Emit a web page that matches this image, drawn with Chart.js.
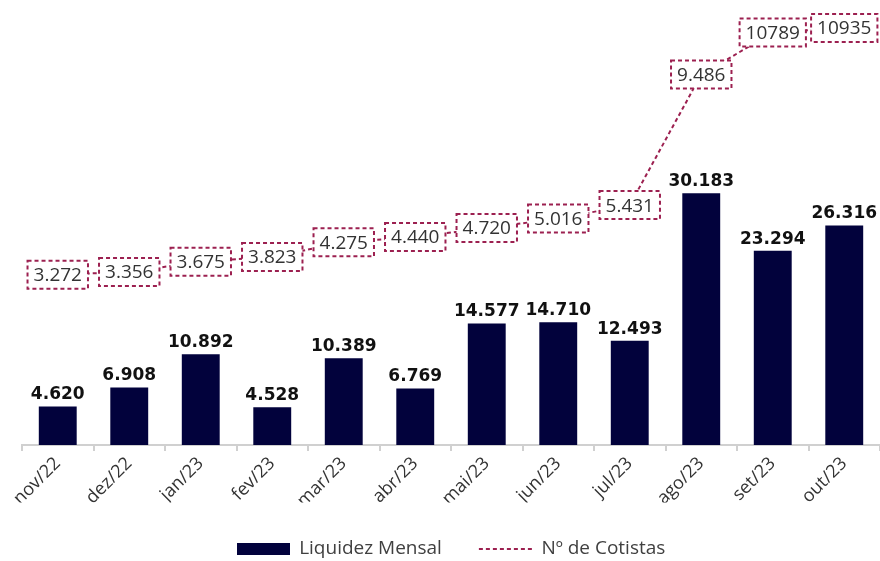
<!DOCTYPE html>
<html>
<head>
<meta charset="utf-8">
<script src="https://cdn.jsdelivr.net/npm/chart.js@4.4.1/dist/chart.umd.min.js"></script>
<style>
  html, body { margin: 0; padding: 0; background: #fff; }
  #wrap { width: 880px; height: 561px; }
</style>
</head>
<body>
<div id="wrap"><canvas id="chart"></canvas></div>
<script>
  // data
  const months = ['nov/22', 'dez/22', 'jan/23', 'fev/23', 'mar/23', 'abr/23', 'mai/23', 'jun/23', 'jul/23', 'ago/23', 'set/23', 'out/23'];
  const liquidez = [4620, 6908, 10892, 4528, 10389, 6769, 14577, 14710, 12493, 30183, 23294, 26316];
  const cotistas = [3272, 3356, 3675, 3823, 4275, 4440, 4720, 5016, 5431, 9486, 10789, 10935];
  const cotistasLabels = ['3.272', '3.356', '3.675', '3.823', '4.275', '4.440', '4.720', '5.016', '5.431', '9.486', '10789', '10935'];

  const NAVY = '#02023c';
  const WINE = '#9c2050';
  const FONT = '"Open Sans", sans-serif';

  const fmtThousands = v => (v / 1000).toFixed(3);

  // legend swatch for the bars
  const barSwatch = document.createElement('canvas');
  barSwatch.width = 53;
  barSwatch.height = 12;
  const sctx = barSwatch.getContext('2d');
  sctx.fillStyle = NAVY;
  sctx.fillRect(0, 0, 53, 12);

  // value labels: bold numbers over bars, dashed boxes on the line
  const valueLabels = {
    id: 'valueLabels',
    afterDatasetsDraw(chart) {
      const ctx = chart.ctx;
      ctx.save();

      const barMeta = chart.getDatasetMeta(0);
      ctx.font = 'bold 17px "DejaVu Sans", sans-serif';
      ctx.fillStyle = '#111';
      ctx.textAlign = 'center';
      ctx.textBaseline = 'bottom';
      barMeta.data.forEach((el, i) => {
        ctx.fillText(fmtThousands(liquidez[i]), el.x, el.y - 3);
      });

      const lineMeta = chart.getDatasetMeta(1);
      ctx.font = '19px ' + FONT;
      ctx.textBaseline = 'middle';
      lineMeta.data.forEach((el, i) => {
        const txt = cotistasLabels[i];
        const w = ctx.measureText(txt).width + 12;
        const h = 28;
        ctx.setLineDash([4, 3]);
        ctx.lineWidth = 2;
        ctx.strokeStyle = WINE;
        ctx.fillStyle = '#fff';
        ctx.fillRect(el.x - w / 2, el.y - h / 2, w, h);
        ctx.strokeRect(el.x - w / 2, el.y - h / 2, w, h);
        ctx.setLineDash([]);
        ctx.fillStyle = '#333';
        ctx.fillText(txt, el.x, el.y + 1);
      });

      ctx.restore();
    }
  };

  new Chart(document.getElementById('chart'), {
    data: {
      labels: months,
      datasets: [
        {
          type: 'bar',
          label: 'Liquidez Mensal',
          data: liquidez,
          backgroundColor: NAVY,
          barPercentage: 0.53,
          categoryPercentage: 1,
          yAxisID: 'y'
        },
        {
          type: 'line',
          label: 'Nº de Cotistas',
          data: cotistas,
          borderColor: WINE,
          borderWidth: 2,
          borderDash: [4, 3],
          pointRadius: 0,
          tension: 0,
          yAxisID: 'y2'
        }
      ]
    },
    options: {
      responsive: true,
      maintainAspectRatio: false,
      animation: false,
      layout: { padding: { left: 22, right: 0, top: 8, bottom: -7.5 } },
      plugins: {
        tooltip: { enabled: false },
        legend: {
          position: 'bottom',
          labels: {
            usePointStyle: true,
            pointStyleWidth: 53,
            padding: 37,
            color: '#404040',
            font: { family: FONT, size: 19 },
            generateLabels(chart) {
              const items = Chart.defaults.plugins.legend.labels.generateLabels(chart);
              items[0].pointStyle = barSwatch;
              items[1].pointStyle = 'line';
              items[1].lineDash = [4, 3];
              items[1].lineWidth = 2;
              items[1].strokeStyle = WINE;
              return items;
            }
          }
        }
      },
      scales: {
        x: {
          offset: true,
          grid: {
            offset: true,
            drawOnChartArea: false,
            drawTicks: true,
            tickLength: 6,
            color: '#d0d0d0',
            lineWidth: 2
          },
          border: { display: true, color: '#d0d0d0', width: 2 },
          ticks: {
            minRotation: 45,
            maxRotation: 45,
            padding: 2,
            color: '#333',
            font: { family: FONT, size: 18 }
          },
          afterFit(scale) { scale.height = 57.5; }
        },
        y: {
          display: false,
          min: 0,
          max: 52400
        },
        y2: {
          display: false,
          position: 'right',
          min: -2019,
          max: 11553
        }
      }
    },
    plugins: [valueLabels]
  });
</script>
</body>
</html>
